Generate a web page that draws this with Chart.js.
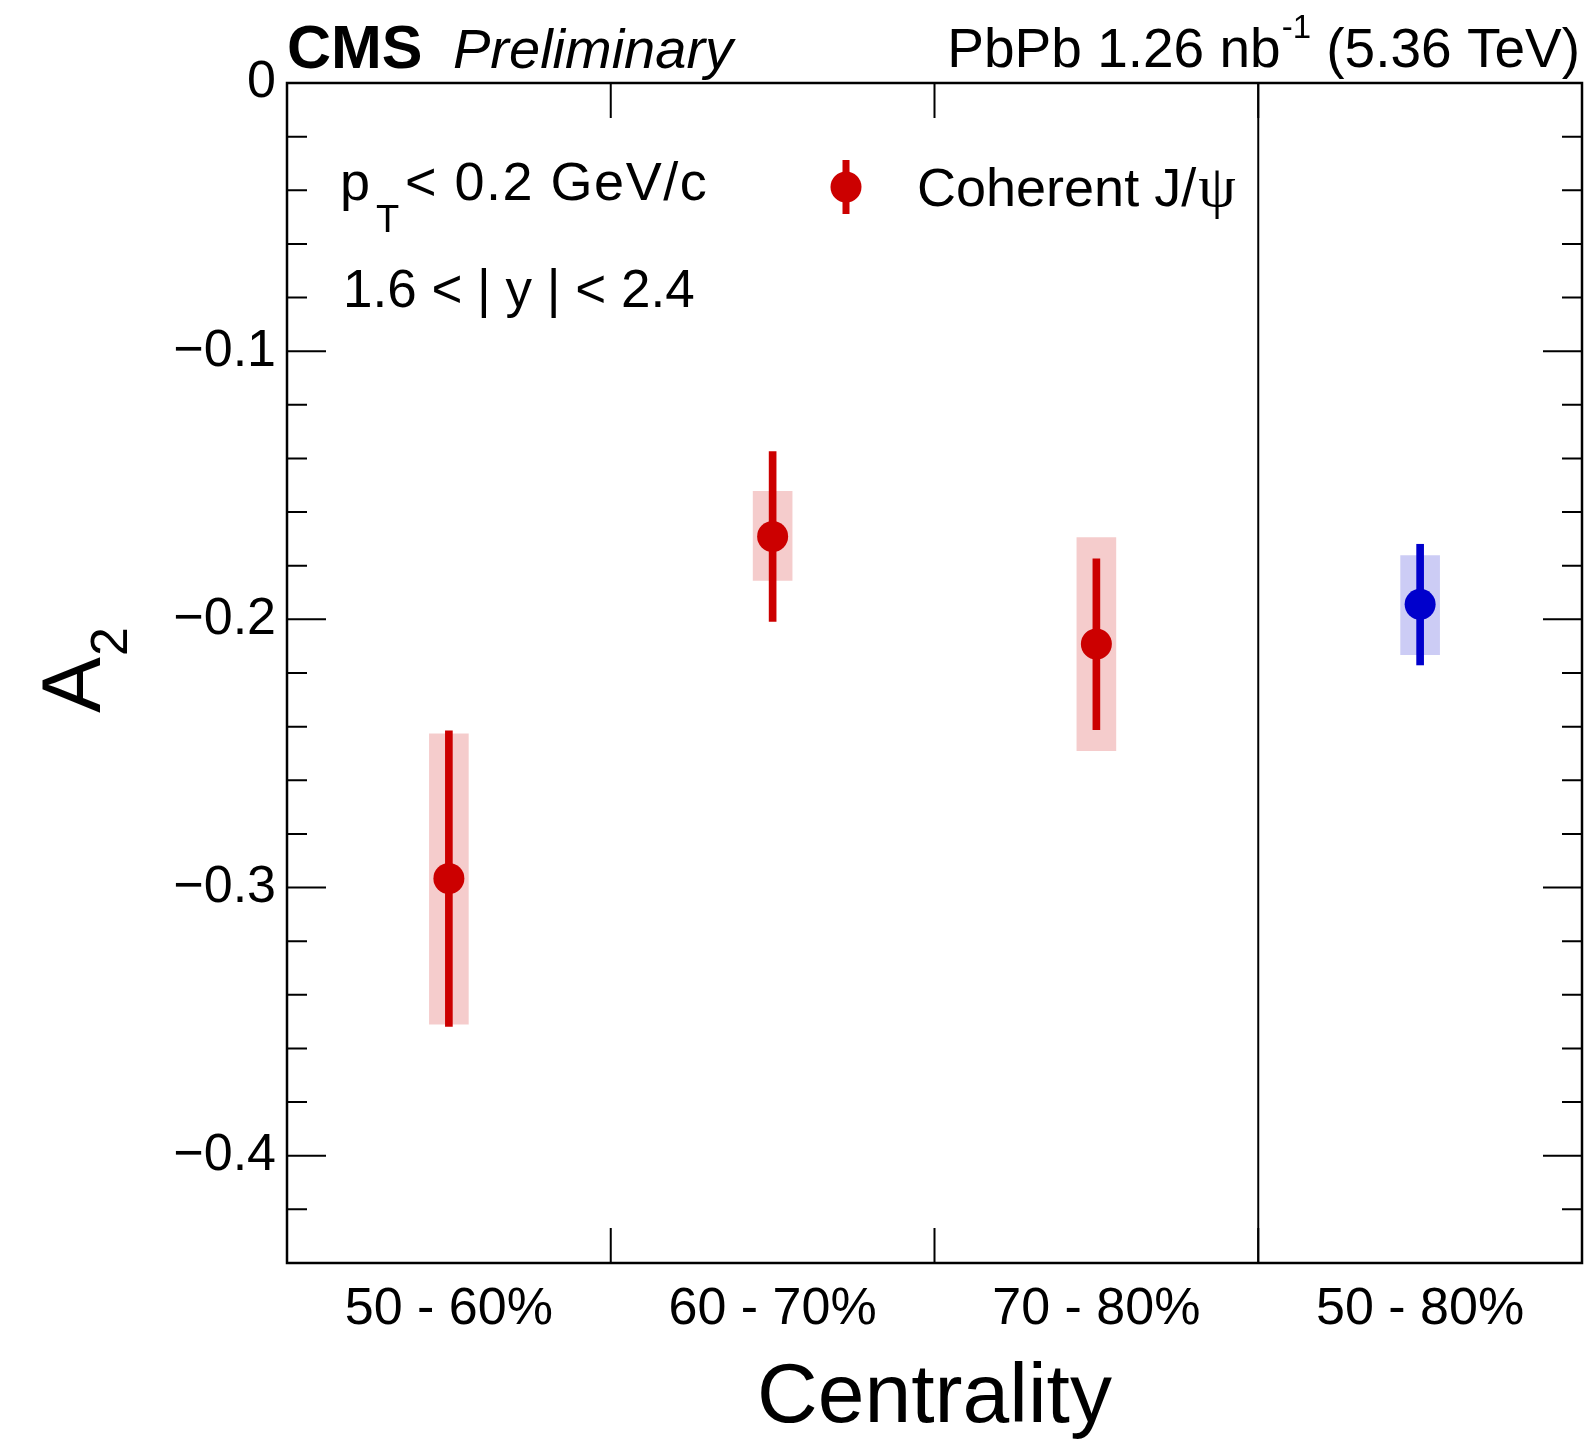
<!DOCTYPE html>
<html lang="en">
<head>
<meta charset="UTF-8">
<title>CMS Preliminary - A2 vs centrality</title>
<style>
  body { margin: 0; background: #fff; }
  canvas { display: block; }
</style>
</head>
<body>
<canvas id="a2Chart" width="1588" height="1441"></canvas>
<script src="https://cdn.jsdelivr.net/npm/chart.js"></script>
<script>
// Values
const categories = ['50 - 60%', '60 - 70%', '70 - 80%', '50 - 80%'];
const binCenters = [0.5, 1.5, 2.5, 3.5];
const a2Values  = [-0.2966, -0.1691, -0.2092, -0.1944];
const statLow   = [-0.3518, -0.2008, -0.2411, -0.2170];
const statHigh  = [-0.2416, -0.1374, -0.1774, -0.1720];
const sysLow    = [-0.3509, -0.1855, -0.2490, -0.2132];
const sysHigh   = [-0.2427, -0.1523, -0.1695, -0.1762];
const yMajorTicks = [0, -0.1, -0.2, -0.3, -0.4];
const binEdges = [1, 2, 3];
const redBins = [0, 1, 2];
const blueBins = [3];
const legendLabel = 'Coherent J/ψ';

const SANS = '"Liberation Sans", Arial, Helvetica, sans-serif';
const RED = '#cc0000', RED_BOX = 'rgba(204,0,0,0.2)';
const BLUE = '#0000cc', BLUE_BOX = 'rgba(0,0,204,0.2)';

const points = idx => idx.map(i => ({ x: binCenters[i], y: a2Values[i] }));
const ranges = (lo, hi, idx) => idx.map(i => ({ x: binCenters[i], y: [lo[i], hi[i]] }));

// ROOT-like frame, inner ticks, labels and legend
const rootStyle = {
  id: 'rootStyle',
  afterDatasetsDraw(chart) {
    const { ctx, chartArea: a, scales: { x, y } } = chart;
    ctx.save();
    ctx.strokeStyle = '#000';

    // inner ticks on y (left + right)
    ctx.lineWidth = 2;
    for (let k = 0; k <= 22; k++) {
      const py = y.getPixelForValue(-k * 0.02);
      const len = k % 5 === 0 ? 39 : 20;
      ctx.beginPath();
      ctx.moveTo(a.left, py); ctx.lineTo(a.left + len, py);
      ctx.moveTo(a.right - len, py); ctx.lineTo(a.right, py);
      ctx.stroke();
    }
    // ticks at bin edges (top + bottom)
    binEdges.forEach(e => {
      const px = x.getPixelForValue(e);
      ctx.beginPath();
      ctx.moveTo(px, a.top); ctx.lineTo(px, a.top + 35);
      ctx.moveTo(px, a.bottom - 35); ctx.lineTo(px, a.bottom);
      ctx.stroke();
    });
    // divider before the combined bin
    const dx = x.getPixelForValue(3);
    ctx.beginPath();
    ctx.moveTo(dx, a.top); ctx.lineTo(dx, a.bottom);
    ctx.stroke();

    // frame
    ctx.lineWidth = 2.5;
    ctx.strokeRect(a.left, a.top, a.right - a.left, a.bottom - a.top);

    ctx.fillStyle = '#000';
    ctx.textBaseline = 'alphabetic';

    // y title A_2
    ctx.save();
    ctx.translate(100, 713);
    ctx.rotate(-Math.PI / 2);
    ctx.textAlign = 'left';
    ctx.font = '84px ' + SANS;
    ctx.fillText('A', 0, 0);
    const aw = ctx.measureText('A').width;
    ctx.font = '52px ' + SANS;
    ctx.fillText('2', aw + 1, 27);
    ctx.restore();

    // header
    ctx.textAlign = 'left';
    ctx.font = 'bold 61px ' + SANS;
    ctx.fillText('CMS', 287, 68);
    ctx.font = 'italic 56px ' + SANS;
    ctx.fillText('Preliminary', 453, 68);

    ctx.font = '55px ' + SANS;
    const p1 = 'PbPb 1.26 nb', p2 = ' (5.36 TeV)';
    const w1 = ctx.measureText(p1).width, w3 = ctx.measureText(p2).width;
    ctx.font = '33px ' + SANS;
    const w2 = ctx.measureText('-1').width;
    const hx = 1579 - (w1 + w2 + w3);
    ctx.font = '55px ' + SANS;
    ctx.fillText(p1, hx, 67);
    ctx.font = '33px ' + SANS;
    ctx.fillText('-1', hx + w1 + 1, 38);
    ctx.font = '55px ' + SANS;
    ctx.fillText(p2, hx + w1 + w2 + 1, 67);

    // kinematic cuts
    ctx.font = '54px ' + SANS;
    ctx.fillText('p', 340, 200);
    ctx.font = '38px ' + SANS;
    ctx.fillText('T', 376, 232);
    ctx.font = '54px ' + SANS;
    ctx.letterSpacing = '1.5px';
    ctx.fillText('< 0.2 GeV/c', 405, 200);
    ctx.letterSpacing = '0px';
    ctx.font = '53px ' + SANS;
    ctx.fillText('1.6 < | y | < 2.4', 343, 307);

    // legend entry
    const lx = 846, ly = 187;
    ctx.strokeStyle = RED;
    ctx.lineWidth = 7;
    ctx.beginPath();
    ctx.moveTo(lx, ly - 27); ctx.lineTo(lx, ly + 27);
    ctx.stroke();
    ctx.fillStyle = RED;
    ctx.beginPath();
    ctx.arc(lx, ly, 15.5, 0, Math.PI * 2);
    ctx.fill();
    ctx.fillStyle = '#000';
    ctx.font = '54px ' + SANS;
    const main = legendLabel.slice(0, -1);
    ctx.fillText(main, 917, 206);
    const mw = ctx.measureText(main).width;
    ctx.font = '60px "Liberation Serif", "DejaVu Serif", serif';
    ctx.fillText(legendLabel.slice(-1), 917 + mw + 2, 206);

    ctx.restore();
  }
};

new Chart(document.getElementById('a2Chart'), {
  type: 'scatter',
  data: {
    datasets: [
      { type: 'scatter', label: legendLabel, data: points(redBins),
        backgroundColor: RED, borderWidth: 0, pointRadius: 15.5, order: 0 },
      { type: 'scatter', label: '50 - 80%', data: points(blueBins),
        backgroundColor: BLUE, borderWidth: 0, pointRadius: 15.5, order: 0 },
      { type: 'bar', label: 'stat', data: ranges(statLow, statHigh, redBins),
        backgroundColor: RED, barThickness: 7, grouped: false, order: 1 },
      { type: 'bar', label: 'stat', data: ranges(statLow, statHigh, blueBins),
        backgroundColor: BLUE, barThickness: 7, grouped: false, order: 1 },
      { type: 'bar', label: 'syst', data: ranges(sysLow, sysHigh, redBins),
        backgroundColor: RED_BOX, barThickness: 39, grouped: false, order: 2 },
      { type: 'bar', label: 'syst', data: ranges(sysLow, sysHigh, blueBins),
        backgroundColor: BLUE_BOX, barThickness: 39, grouped: false, order: 2 }
    ]
  },
  options: {
    responsive: false,
    devicePixelRatio: 1,
    animation: false,
    layout: { autoPadding: false, padding: { top: 83, right: 6, left: 0, bottom: 0 } },
    plugins: { legend: { display: false }, tooltip: { enabled: false } },
    scales: {
      x: {
        type: 'linear', min: 0, max: 4, offset: false,
        grid: { display: false, drawTicks: false },
        border: { display: false },
        afterBuildTicks: s => { s.ticks = binCenters.map(v => ({ value: v })); },
        afterFit: s => { s.height = 178; s.paddingLeft = 0; s.paddingRight = 0; },
        ticks: {
          autoSkip: false, maxRotation: 0, padding: 15, color: '#000',
          font: { family: SANS, size: 52 },
          callback: v => categories[binCenters.indexOf(v)]
        },
        title: {
          display: true, text: 'Centrality', color: '#000', padding: 0,
          font: { family: SANS, size: 84, lineHeight: 1 }
        }
      },
      y: {
        min: -0.44, max: 0,
        grid: { display: false, drawTicks: false },
        border: { display: false },
        afterBuildTicks: s => { s.ticks = yMajorTicks.map(v => ({ value: v })); },
        afterFit: s => { s.width = 287; s.paddingTop = 0; s.paddingBottom = 0; },
        ticks: {
          autoSkip: false, padding: 11, color: '#000',
          font: { family: SANS, size: 52 },
          callback: v => v === 0 ? '0' : '\u2212' + Math.abs(v).toFixed(1)
        }
      }
    }
  },
  plugins: [rootStyle]
});
</script>
</body>
</html>
